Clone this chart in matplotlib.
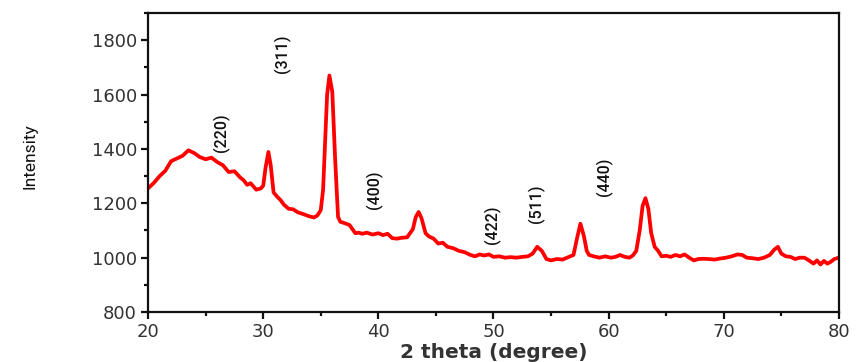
import matplotlib
matplotlib.use("Agg")
import matplotlib.pyplot as plt
from matplotlib.ticker import MultipleLocator

two_theta = [20.0, 20.5, 21.0, 21.5, 22.0, 22.5, 23.0, 23.5, 24.0, 24.5, 25.0, 25.5, 26.0, 26.5,
             27.0, 27.5, 28.0, 28.3, 28.6, 28.9, 29.4, 29.8, 30.0, 30.2, 30.45, 30.65, 30.9, 31.2,
             31.5, 31.8, 32.2, 32.6, 33.0, 33.5, 34.0, 34.4, 34.7, 35.0, 35.2, 35.4, 35.55, 35.75,
             36.0, 36.25, 36.5, 36.7, 37.0, 37.5, 38.0, 38.3, 38.6, 39.0, 39.5, 40.0, 40.4, 40.8,
             41.2, 41.6, 42.0, 42.5, 43.0, 43.25, 43.5, 43.75, 44.1, 44.4, 44.8, 45.2, 45.6, 46.0,
             46.5, 47.0, 47.5, 48.0, 48.4, 48.8, 49.2, 49.6, 50.0, 50.5, 51.0, 51.5, 52.0, 52.5,
             53.0, 53.4, 53.8, 54.2, 54.6, 55.0, 55.5, 56.0, 56.5, 56.95, 57.25, 57.55, 57.85, 58.1,
             58.3, 58.7, 59.2, 59.7, 60.2, 60.6, 61.0, 61.4, 61.8, 62.1, 62.4, 62.7, 62.95, 63.2,
             63.45, 63.7, 64.0, 64.3, 64.6, 65.0, 65.4, 65.8, 66.2, 66.6, 67.0, 67.4, 67.8, 68.2,
             68.7, 69.2, 69.7, 70.2, 70.7, 71.2, 71.6, 72.0, 72.5, 73.0, 73.5, 74.0, 74.4, 74.7,
             75.0, 75.4, 75.8, 76.2, 76.6, 77.0, 77.4, 77.8, 78.1, 78.4, 78.7, 79.0, 79.3, 79.6,
             80.0]
intensity = [1255, 1275, 1300, 1320, 1355, 1365, 1375, 1395, 1385, 1370, 1362, 1368, 1352, 1340,
             1315, 1318, 1295, 1285, 1268, 1274, 1250, 1255, 1265, 1330, 1389, 1340, 1240, 1225,
             1212, 1195, 1180, 1178, 1167, 1160, 1152, 1148, 1155, 1175, 1250, 1450, 1600, 1670,
             1610, 1360, 1150, 1132, 1128, 1120, 1090, 1092, 1088, 1092, 1085, 1090, 1083, 1088,
             1072, 1070, 1073, 1075, 1105, 1150, 1168, 1145, 1090, 1078, 1070, 1052, 1055, 1040,
             1035, 1025, 1020, 1010, 1005, 1012, 1008, 1012, 1003, 1005, 1000, 1002, 1000, 1003,
             1005, 1015, 1040, 1025, 995, 990, 995, 993, 1002, 1010, 1070, 1125, 1080, 1025,
             1010, 1005, 1000, 1005, 1000, 1003, 1010, 1003, 1000, 1008, 1025, 1100, 1190, 1219,
             1180, 1090, 1040, 1025, 1005, 1007, 1003, 1010, 1005, 1012, 1000, 990, 995, 996,
             995, 993, 997, 1000, 1005, 1012, 1010, 1000, 998, 995, 1000, 1010, 1030, 1040,
             1015, 1005, 1003, 995, 1000, 1000, 990, 978, 990, 975, 988, 978, 985, 995,
             1000]

hkl_labels = ["(220)", "(311)", "(400)", "(422)", "(511)", "(440)"]
hkl_x = [26.4, 31.7, 39.7, 49.9, 53.7, 59.6]
hkl_y = [1460, 1750, 1250, 1120, 1200, 1297]

fig = plt.figure(figsize=(8.56, 3.62), dpi=100)
ax = fig.add_axes([0.173, 0.138, 0.807, 0.826])
ax.plot(two_theta, intensity, color="#ff0000", lw=2.7, solid_joinstyle="round")

narrow = ["Roboto", "DejaVu Sans"]
for lab, xx, yy in zip(hkl_labels, hkl_x, hkl_y):
    ax.text(xx, yy, lab, rotation=90, ha="center", va="center", fontsize=11.5,
            family=narrow, fontweight="medium", color="#111111")

ax.set_xlim(20, 80)
ax.set_ylim(800, 1900)
ax.xaxis.set_major_locator(MultipleLocator(10))
ax.xaxis.set_minor_locator(MultipleLocator(5))
ax.yaxis.set_minor_locator(MultipleLocator(100))
ax.set_yticks([800, 1000, 1200, 1400, 1600, 1800])

for s in ax.spines.values():
    s.set_linewidth(1.6)
    s.set_color("#111111")
ax.tick_params(which="major", direction="out", length=5, width=1.6, labelsize=13,
               colors="#111111", pad=3)
ax.tick_params(which="minor", direction="out", length=3, width=1.6, colors="#111111")
ax.tick_params(top=False, right=False, which="both")
for t in ax.get_xticklabels() + ax.get_yticklabels():
    t.set_family("DejaVu Sans")
    t.set_color("#333333")

ax.set_ylabel("Intensity", family=narrow, fontsize=12.5, fontweight="normal",
              labelpad=0, color="#111111")
ax.yaxis.set_label_coords(-0.16, 0.52)
ax.set_xlabel("2 theta (degree)", family="DejaVu Sans", fontweight="bold", fontsize=14.5,
              labelpad=1, color="#333333")

fig.savefig("out.png", dpi=100)
